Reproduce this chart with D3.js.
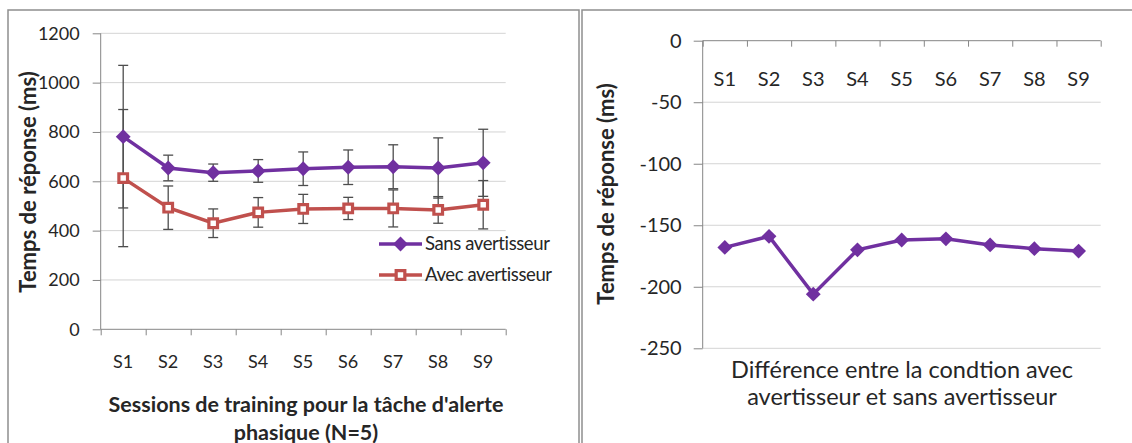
<!DOCTYPE html>
<html>
<head>
<meta charset="utf-8">
<script src="https://cdn.jsdelivr.net/npm/d3@7"></script>
<style>
  body { margin: 0; background: #fff; }
  svg text { font-family: Lato, "Open Sans", sans-serif; fill: #262626; }
  .axis path, .axis line { stroke: #868686; }
  .grid line { stroke: #d4d4d4; }
</style>
</head>
<body>
<div id="chart"></div>
<script>
// values
const sessions = ["S1", "S2", "S3", "S4", "S5", "S6", "S7", "S8", "S9"];
const sansValues = [781, 654, 635, 642, 651, 657, 659, 654, 675];
const sansErr = [289, 52, 35, 46, 68, 70, 89, 122, 136];
const avecValues = [613, 493, 430, 474, 488, 490, 490, 484, 505];
const avecErr = [278, 88, 58, 60, 59, 45, 75, 54, 98];
const diffValues = [-168, -159, -206, -170, -162, -161, -166, -169, -171];
const leftTicks = [0, 200, 400, 600, 800, 1000, 1200];
const rightTicks = [0, -50, -100, -150, -200, -250];

const purple = "#7030a0";
const red = "#c0504d";

const width = 1132, height = 443;
const svg = d3.select("#chart").append("svg")
  .attr("width", width)
  .attr("height", height);

// panel frames
svg.append("rect").attr("x", 8).attr("y", 10).attr("width", 571).attr("height", 460)
  .attr("fill", "none").attr("stroke", "#8f8f8f").attr("stroke-width", 1.5);
svg.append("rect").attr("x", 582).attr("y", 10).attr("width", 600).attr("height", 460)
  .attr("fill", "none").attr("stroke", "#8f8f8f").attr("stroke-width", 1.5);

// ---------- left chart ----------
const x = d3.scaleBand().domain(sessions).range([100.7, 505.7]);
const xb = d3.scaleLinear().domain([0, 9]).range([100.7, 505.7]);
const y = d3.scaleLinear().domain([0, 1200]).range([329.3, 33.3]);

svg.append("g").attr("class", "grid")
  .selectAll("line").data(leftTicks.filter(d => d > 0)).enter().append("line")
  .attr("x1", x.range()[0]).attr("x2", x.range()[1])
  .attr("y1", d => y(d)).attr("y2", d => y(d));

const yAxis = svg.append("g").attr("class", "axis")
  .attr("transform", `translate(${x.range()[0]},0)`)
  .call(d3.axisLeft(y).tickValues(leftTicks).tickSize(8).tickPadding(13)
    .tickFormat(d => String(d)));
yAxis.select(".domain").attr("d", `M0,${y(0)}V${y(1200)}`);
yAxis.selectAll("text").attr("font-size", 18).attr("font-family", "Lato");

const xAxis = svg.append("g").attr("class", "axis")
  .attr("transform", `translate(0,${y(0)})`)
  .call(d3.axisBottom(xb).tickValues(d3.range(0, 10)).tickSize(6).tickFormat(""));
xAxis.select(".domain").attr("d", `M${xb(0)},0H${xb(9)}`);

svg.append("g")
  .attr("transform", `translate(0,${y(0)})`)
  .call(d3.axisBottom(x).tickSize(0).tickPadding(26))
  .call(g => g.select(".domain").remove())
  .selectAll("text").attr("font-size", 18).attr("font-family", "Lato");

// error bars
function errorBars(vals, errs) {
  const g = svg.append("g").attr("stroke", "#4d4d4d").attr("stroke-width", 1.3);
  sessions.forEach((s, i) => {
    const cx = x(s) + x.bandwidth() / 2;
    const lo = y(vals[i] - errs[i]), hi = y(vals[i] + errs[i]);
    g.append("line").attr("x1", cx).attr("x2", cx).attr("y1", lo).attr("y2", hi);
    g.append("line").attr("x1", cx - 5).attr("x2", cx + 5).attr("y1", lo).attr("y2", lo);
    g.append("line").attr("x1", cx - 5).attr("x2", cx + 5).attr("y1", hi).attr("y2", hi);
  });
}
errorBars(sansValues, sansErr);
errorBars(avecValues, avecErr);

const line = d3.line()
  .x((d, i) => x(sessions[i]) + x.bandwidth() / 2)
  .y(d => y(d));

svg.append("path").datum(sansValues)
  .attr("fill", "none").attr("stroke", purple).attr("stroke-width", 3.5)
  .attr("d", line);
svg.append("path").datum(avecValues)
  .attr("fill", "none").attr("stroke", red).attr("stroke-width", 3.5)
  .attr("d", line);

const diamond = d3.symbol().type(d3.symbolDiamond2).size(140);
const square = d3.symbol().type(d3.symbolSquare2).size(95);

svg.append("g").selectAll("path").data(sansValues).enter().append("path")
  .attr("transform", (d, i) => `translate(${x(sessions[i]) + x.bandwidth() / 2},${y(d)})`)
  .attr("d", diamond).attr("fill", purple);
svg.append("g").selectAll("path").data(avecValues).enter().append("path")
  .attr("transform", (d, i) => `translate(${x(sessions[i]) + x.bandwidth() / 2},${y(d)})`)
  .attr("d", square).attr("fill", "#fff").attr("stroke", red).attr("stroke-width", 3.2);

// legend
const legend = svg.append("g");
[["Sans avertisseur", purple, diamond, purple], ["Avec avertisseur", red, square, "#fff"]]
  .forEach((it, i) => {
    const ly = 244 + i * 31;
    legend.append("line").attr("x1", 379).attr("x2", 422).attr("y1", ly).attr("y2", ly)
      .attr("stroke", it[1]).attr("stroke-width", 3.5);
    legend.append("path").attr("transform", `translate(400.5,${ly})`).attr("d", it[2])
      .attr("fill", it[3]).attr("stroke", i ? red : "none").attr("stroke-width", 3.2);
    legend.append("text").attr("x", 425).attr("y", ly).attr("dy", "0.35em")
      .attr("font-size", 18.5).attr("letter-spacing", -0.4).text(it[0]);
  });

// titles
svg.append("text")
  .attr("transform", "translate(28,182) rotate(-90)")
  .attr("text-anchor", "middle").attr("dy", "0.35em")
  .attr("font-size", 22).attr("font-weight", "bold")
  .text("Temps de réponse (ms)");
svg.append("text").attr("x", 306).attr("y", 404).attr("dy", "0.35em")
  .attr("text-anchor", "middle").attr("font-size", 21.5).attr("font-weight", "bold")
  .text("Sessions de training pour la tâche d'alerte");
svg.append("text").attr("x", 306).attr("y", 432).attr("dy", "0.35em")
  .attr("text-anchor", "middle").attr("font-size", 21.5).attr("font-weight", "bold")
  .text("phasique (N=5)");

// ---------- right chart ----------
const x2 = d3.scaleBand().domain(sessions).range([702.7, 1100.7]);
const x2b = d3.scaleLinear().domain([0, 9]).range([702.7, 1100.7]);
const y2 = d3.scaleLinear().domain([-250, 0]).range([348.3, 40.7]);

svg.append("g").attr("class", "grid")
  .selectAll("line").data(rightTicks.filter(d => d < 0)).enter().append("line")
  .attr("x1", x2.range()[0]).attr("x2", x2.range()[1])
  .attr("y1", d => y2(d)).attr("y2", d => y2(d));

const y2Axis = svg.append("g").attr("class", "axis")
  .attr("transform", `translate(${x2.range()[0]},0)`)
  .call(d3.axisLeft(y2).tickValues(rightTicks).tickSize(9).tickPadding(12)
    .tickFormat(d => String(d)));
y2Axis.select(".domain").attr("d", `M0,${y2(-250)}V${y2(0)}`);
y2Axis.selectAll("text").attr("font-size", 20).attr("font-family", "Lato");

const x2Axis = svg.append("g").attr("class", "axis")
  .attr("transform", `translate(0,${y2(0)})`)
  .call(d3.axisBottom(x2b).tickValues(d3.range(0, 10)).tickSize(6).tickFormat(""));
x2Axis.select(".domain").attr("d", `M${x2b(0)},0H${x2b(9)}`);

svg.append("g")
  .attr("transform", `translate(0,${y2(0)})`)
  .call(d3.axisBottom(x2).tickSize(0).tickPadding(31))
  .call(g => g.select(".domain").remove())
  .selectAll("text").attr("font-size", 20).attr("font-family", "Lato");

const line2 = d3.line()
  .x((d, i) => x2(sessions[i]) + x2.bandwidth() / 2)
  .y(d => y2(d));
svg.append("path").datum(diffValues)
  .attr("fill", "none").attr("stroke", purple).attr("stroke-width", 3.5)
  .attr("d", line2);
svg.append("g").selectAll("path").data(diffValues).enter().append("path")
  .attr("transform", (d, i) => `translate(${x2(sessions[i]) + x2.bandwidth() / 2},${y2(d)})`)
  .attr("d", diamond).attr("fill", purple);

svg.append("text")
  .attr("transform", "translate(606,194) rotate(-90)")
  .attr("text-anchor", "middle").attr("dy", "0.35em")
  .attr("font-size", 22).attr("font-weight", "bold")
  .text("Temps de réponse (ms)");
svg.append("text").attr("x", 902).attr("y", 370).attr("dy", "0.35em")
  .attr("text-anchor", "middle").attr("font-size", 23.5)
  .text("Différence entre la condtion avec");
svg.append("text").attr("x", 902).attr("y", 397).attr("dy", "0.35em")
  .attr("text-anchor", "middle").attr("font-size", 23.5)
  .text("avertisseur et sans avertisseur");
</script>
</body>
</html>
